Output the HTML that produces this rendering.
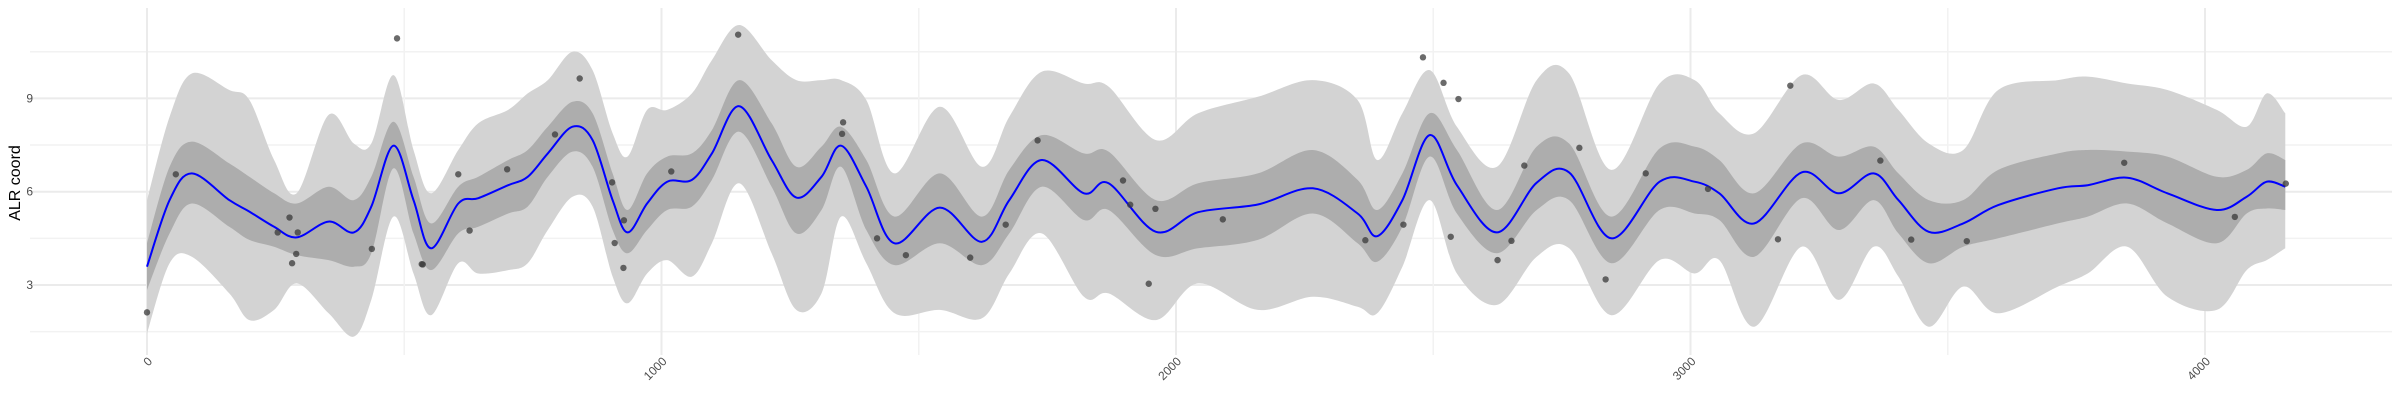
<!DOCTYPE html>
<html><head><meta charset="utf-8">
<style>html,body{margin:0;padding:0;background:#fff}svg{display:block}</style>
</head><body>
<svg id="chart" width="2400" height="400" viewBox="0 0 2400 400" xmlns="http://www.w3.org/2000/svg" font-family="Liberation Sans, sans-serif">
<g id="grid"></g>
<g id="bands"></g>
<g id="line"></g>
<g id="pts"></g>
<g id="axes"></g>
<text transform="translate(20,183) rotate(-90)" text-anchor="middle" font-size="16" fill="#000">ALR coord</text>
</svg>
<script>
const xs = [0,44,87,160,199,247,291,353,402,436,479,518,552,605,644,702,740,779,827,866,905,934,972,1011,1059,1098,1151,1214,1262,1311,1349,1398,1453,1541,1623,1676,1739,1821,1869,1961,2043,2159,2266,2353,2391,2440,2493,2546,2624,2701,2764,2846,2940,3008,3056,3124,3216,3288,3356,3404,3463,3530,3598,3714,3772,3849,3927,4023,4081,4120,4156];
const meanVals = [3.59,5.73,6.59,5.73,5.36,4.87,4.53,5.04,4.69,5.52,7.48,5.73,4.18,5.62,5.79,6.21,6.48,7.23,8.09,7.66,5.73,4.69,5.62,6.32,6.38,7.23,8.75,7.02,5.81,6.48,7.48,6.16,4.34,5.49,4.39,5.73,7.02,5.95,6.27,4.71,5.34,5.59,6.11,5.30,4.57,5.73,7.82,6.21,4.69,6.29,6.62,4.50,6.32,6.32,5.95,4.98,6.62,5.95,6.59,5.73,4.71,4.98,5.57,6.11,6.21,6.45,5.95,5.41,5.84,6.32,6.16];
const innerUpper = [4.34,6.80,7.61,6.91,6.48,5.95,5.62,6.16,5.73,6.48,8.25,6.48,4.98,6.16,6.48,7.02,7.34,8.09,8.89,8.52,6.59,5.41,6.59,7.13,7.23,7.98,9.59,8.20,6.80,7.45,8.09,7.02,5.20,6.59,5.20,6.70,7.82,7.23,7.29,5.73,6.27,6.59,7.34,6.38,5.41,6.59,8.52,7.34,5.41,7.45,7.55,5.20,7.39,7.45,7.02,5.95,7.55,7.13,7.45,6.59,5.73,5.73,6.70,7.23,7.34,7.29,7.13,6.48,6.70,7.23,7.02];
const innerLower = [2.84,4.66,5.62,4.87,4.45,4.23,3.96,3.80,3.59,4.02,6.75,4.66,3.48,4.66,4.87,5.30,5.52,6.48,7.29,6.80,4.77,4.02,4.77,5.41,5.52,6.38,7.93,6.16,4.66,5.41,6.80,4.77,3.64,4.34,3.64,4.66,6.16,5.09,5.41,3.96,4.18,4.45,5.30,4.34,3.75,4.87,7.13,5.30,4.02,5.41,5.73,3.70,5.41,5.30,5.09,3.91,5.79,4.77,5.73,4.66,3.70,4.23,4.50,4.98,5.20,5.62,4.98,4.34,5.30,5.46,5.41];
const outerUpper = [5.73,8.41,9.80,9.27,8.95,7.02,5.95,8.47,7.55,7.55,9.75,7.34,5.95,7.34,8.20,8.63,9.16,9.59,10.50,9.91,7.88,7.13,8.63,8.63,9.16,10.23,11.36,10.23,9.59,9.59,9.59,8.95,6.59,8.73,6.80,8.41,9.86,9.48,9.38,7.66,8.52,9.05,9.59,8.95,7.02,8.52,9.91,8.09,6.80,9.59,9.80,6.70,9.48,9.59,8.52,7.88,9.75,8.95,9.48,8.63,7.55,7.34,9.27,9.59,9.70,9.48,9.27,8.63,8.09,9.16,8.52];
const outerLower = [1.44,3.70,3.91,2.73,1.87,2.20,3.05,2.09,1.34,2.52,5.20,3.37,2.03,3.70,3.37,3.48,3.70,4.77,5.84,5.52,3.27,2.41,3.37,3.80,3.27,4.34,6.27,4.02,2.20,2.73,5.20,3.70,2.09,2.20,1.93,3.37,4.66,2.62,2.73,1.87,3.05,2.20,2.62,2.30,2.09,3.59,5.73,3.37,2.36,3.91,4.18,2.03,3.80,3.37,3.80,1.66,4.23,2.52,4.23,3.27,1.66,2.95,2.09,2.95,3.37,4.23,2.62,2.20,3.48,3.80,4.18];
const pointX = [0,56,277,254,293,290,282,437,486,534,536,605,627,700,793,841,904,927,909,926,1019,1149,1353,1351,1419,1475,1600,1669,1731,1897,1911,1960,1947,2091,2368,2442,2480,2520,2549,2534,2625,2652,2677,2784,2835,2913,3034,3170,3194,3369,3429,3537,3843,4058,4157];
const pointY = [2.12,6.56,5.17,4.69,4.69,4.00,3.70,4.16,10.93,3.67,3.66,6.56,4.75,6.72,7.84,9.64,6.30,5.08,4.35,3.55,6.65,11.05,8.23,7.86,4.50,3.96,3.88,4.94,7.65,6.36,5.58,5.45,3.04,5.11,4.44,4.94,10.32,9.50,8.98,4.55,3.80,4.42,6.84,7.41,3.18,6.59,6.09,4.47,9.41,7.00,4.46,4.41,6.93,5.19,6.26];
const yTicks = [3,6,9];
const yMinor = [1.5,4.5,7.5,10.5];
const xTicks = [0,1000,2000,3000,4000];
const xMinor = [500,1500,2500,3500,4500];

const NS='http://www.w3.org/2000/svg';
const X = v => 147 + v*0.5145;
const Y = v => 191.7 - (v-6)*31.1;
function mk(tag, attrs, parent){const e=document.createElementNS(NS,tag);for(const k in attrs)e.setAttribute(k,attrs[k]);parent.appendChild(e);return e;}
function crPath(P, move){let d=move?`M${P[0][0]},${P[0][1]}`:`L${P[0][0]},${P[0][1]}`;
 for(let i=0;i<P.length-1;i++){const p0=P[Math.max(0,i-1)],p1=P[i],p2=P[i+1],p3=P[Math.min(P.length-1,i+2)];
  const c1=[p1[0]+(p2[0]-p0[0])/6,p1[1]+(p2[1]-p0[1])/6],c2=[p2[0]-(p3[0]-p1[0])/6,p2[1]-(p3[1]-p1[1])/6];
  d+=` C${c1[0].toFixed(1)},${c1[1].toFixed(1)} ${c2[0].toFixed(1)},${c2[1].toFixed(1)} ${p2[0].toFixed(1)},${p2[1].toFixed(1)}`;}
 return d;}
const grid=document.getElementById('grid');
yMinor.forEach(v=>{const l=mk('line',{x1:30,x2:2392,y1:Y(v),y2:Y(v),stroke:'#f2f2f2','stroke-width':1.5},grid);

});
yTicks.forEach(v=>{const l=mk('line',{x1:30,x2:2392,y1:Y(v),y2:Y(v),stroke:'#ebebeb','stroke-width':2},grid);

});
xMinor.forEach(v=>{const l=mk('line',{x1:X(v),x2:X(v),y1:8,y2:355,stroke:'#f2f2f2','stroke-width':1.5},grid);

});
xTicks.forEach(v=>{const l=mk('line',{x1:X(v),x2:X(v),y1:8,y2:355,stroke:'#ebebeb','stroke-width':2},grid);

});
function band(up,lo,fill,name,parent){
 const U=xs.map((x,i)=>[X(x),Y(up[i])]),L=xs.map((x,i)=>[X(x),Y(lo[i])]).reverse();
 const p=mk('path',{d:crPath(U,true)+' '+crPath(L,false)+' Z',fill:fill},parent);
 
 }
const bands=document.getElementById('bands');
band(outerUpper,outerLower,'#d3d3d3','outer-interval-band',bands);
band(innerUpper,innerLower,'#adadad','inner-interval-band',bands);
const ml=mk('path',{d:crPath(xs.map((x,i)=>[X(x),Y(meanVals[i])]),true),fill:'none',stroke:'#0000ff','stroke-width':2},document.getElementById('line'));


const pts=document.getElementById('pts');
pointX.forEach((x,i)=>{const c=mk('circle',{cx:X(x),cy:Y(pointY[i]),r:3.2,fill:'#3a3a3a','fill-opacity':0.75},pts);

});
const axes=document.getElementById('axes');
yTicks.forEach(v=>{const t=mk('text',{x:33,y:Y(v)+4,'text-anchor':'end','font-size':12,fill:'#4d4d4d'},axes);t.textContent=String(v);

});
xTicks.forEach(v=>{const t=mk('text',{transform:`translate(${X(v)+6},${362}) rotate(-45)`,'text-anchor':'end','font-size':12,fill:'#4d4d4d'},axes);t.textContent=String(v);

});
</script>
</body></html>
